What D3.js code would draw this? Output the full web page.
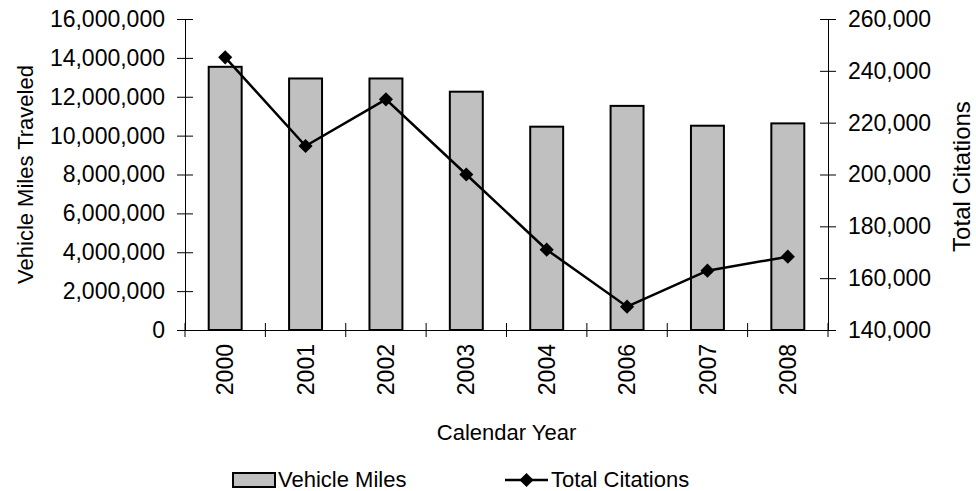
<!DOCTYPE html>
<html>
<head>
<meta charset="utf-8">
<script src="https://cdn.jsdelivr.net/npm/d3@7"></script>
<style>
  body { margin: 0; background: #fff; overflow: hidden; }
  text { font-family: "Liberation Sans", Arial, sans-serif; fill: #000; }
</style>
</head>
<body>
<div class="chart"></div>
<script>
const years = ["2000", "2001", "2002", "2003", "2004", "2006", "2007", "2008"]
const vehicleMiles = [13540000, 12940000, 12940000, 12260000, 10460000, 11530000, 10510000, 10630000]
const totalCitations = [245200, 211000, 229000, 200000, 171000, 149000, 162900, 168300]
const leftTicks = [0, 2000000, 4000000, 6000000, 8000000, 10000000, 12000000, 14000000, 16000000]
const rightTicks = [140000, 160000, 180000, 200000, 220000, 240000, 260000]

const W = 976, H = 491
const margin = ({top: 19, right: 148, bottom: 161, left: 185})
const width = W - margin.left - margin.right,
      height = H - margin.top - margin.bottom;
const fontSize = 22

let svg = d3.select(".chart").append("svg")
    .attr("width", W)
    .attr("height", H)
    .style("display", "block")

let g = svg.append("g")
    .attr("transform", "translate(" + margin.left + "," + margin.top + ")");

const xScale = d3.scaleBand()
    .domain(years)
    .range([0, width])

const yLeft = d3.scaleLinear()
    .domain([0, 16000000])
    .range([height, 0])

const yRight = d3.scaleLinear()
    .domain([140000, 260000])
    .range([height, 0])

const fmt = d3.format(",")

// left axis - ticks cross the line
let leftAxis = d3.axisLeft(yLeft).tickValues(leftTicks).tickFormat(fmt).tickSizeInner(8).tickSizeOuter(0).tickPadding(12)
let gl = g.append("g").attr("class", "axis").call(leftAxis)
gl.selectAll(".tick line").attr("x2", 8).attr("x1", -8)

let rightAxis = d3.axisRight(yRight).tickValues(rightTicks).tickFormat(fmt).tickSizeInner(8).tickSizeOuter(0).tickPadding(12)
let gr = g.append("g").attr("class", "axis").attr("transform", `translate(${width},0)`).call(rightAxis)
gr.selectAll(".tick line").attr("x1", -8).attr("x2", 8)

g.selectAll(".axis text").style("font-size", "23px").attr("fill", "#000")
g.selectAll(".axis path").attr("stroke", "#000")
g.selectAll(".axis line").attr("stroke", "#000")

// bars
const barW = xScale.bandwidth() * 0.41
g.selectAll(".bars")
    .data(years)
    .enter()
    .append("rect")
    .attr("class", "bars")
    .attr("x", (d) => xScale(d) + (xScale.bandwidth() - barW) / 2)
    .attr("width", barW)
    .attr("y", (d, i) => yLeft(vehicleMiles[i]))
    .attr("height", (d, i) => height - yLeft(vehicleMiles[i]))
    .attr("fill", "#c0c0c0")
    .attr("stroke", "#000")
    .attr("stroke-width", 2)

// x axis drawn after bars so it sits on top
let xAxis = d3.axisBottom(xScale).tickSize(0).tickFormat("")
let gx = g.append("g").attr("transform", `translate(0, ${height})`).call(xAxis)
gx.select("path").attr("stroke", "#000")
// category boundary ticks
g.selectAll(".xtick")
    .data(d3.range(years.length + 1))
    .enter()
    .append("line")
    .attr("class", "xtick")
    .attr("x1", (i) => i * xScale.step())
    .attr("x2", (i) => i * xScale.step())
    .attr("y1", height - 7)
    .attr("y2", height + 7)
    .attr("stroke", "#000")

g.selectAll(".xlab")
    .data(years)
    .enter()
    .append("text")
    .attr("class", "xlab")
    .attr("transform", (d) => `translate(${xScale(d) + xScale.bandwidth() / 2}, ${height + 14}) rotate(-90)`)
    .attr("text-anchor", "end")
    .attr("dy", "0.35em")
    .style("font-size", "23px")
    .text((d) => d)

// line
const cx = (d) => xScale(d) + xScale.bandwidth() / 2
const line = d3.line()
    .x((d) => cx(d))
    .y((d, i) => yRight(totalCitations[i]))

g.append("path")
    .datum(years)
    .attr("d", line)
    .attr("fill", "none")
    .attr("stroke", "#000")
    .attr("stroke-width", 2.5)

const diamond = d3.symbol().type(d3.symbolSquare).size(100)
g.selectAll(".marker")
    .data(years)
    .enter()
    .append("path")
    .attr("class", "marker")
    .attr("d", diamond)
    .attr("transform", (d, i) => `translate(${cx(d)},${yRight(totalCitations[i])}) rotate(45)`)
    .attr("fill", "#000")

// axis titles
svg.append("text")
    .attr("transform", `translate(33, ${margin.top + height / 2}) rotate(-90)`)
    .attr("text-anchor", "middle")
    .style("font-size", fontSize + "px")
    .text("Vehicle Miles Traveled")

svg.append("text")
    .attr("transform", `translate(970, ${margin.top + height / 2 + 2}) rotate(-90)`)
    .attr("text-anchor", "middle")
    .style("font-size", "24px")
    .text("Total Citations")

svg.append("text")
    .attr("x", margin.left + width / 2)
    .attr("y", 440)
    .attr("text-anchor", "middle")
    .style("font-size", fontSize + "px")
    .text("Calendar Year")

// legend
let lg = svg.append("g")
lg.append("rect")
    .attr("x", 233).attr("y", 473)
    .attr("width", 42).attr("height", 14)
    .attr("fill", "#c0c0c0").attr("stroke", "#000").attr("stroke-width", 2)
lg.append("text")
    .attr("x", 278).attr("y", 487)
    .style("font-size", fontSize + "px")
    .text("Vehicle Miles")
lg.append("line")
    .attr("x1", 505).attr("x2", 548).attr("y1", 480).attr("y2", 480)
    .attr("stroke", "#000").attr("stroke-width", 2.5)
lg.append("path")
    .attr("d", diamond)
    .attr("transform", "translate(526.5,480) rotate(45)")
    .attr("fill", "#000")
lg.append("text")
    .attr("x", 551).attr("y", 487)
    .style("font-size", fontSize + "px")
    .text("Total Citations")
</script>
</body>
</html>
